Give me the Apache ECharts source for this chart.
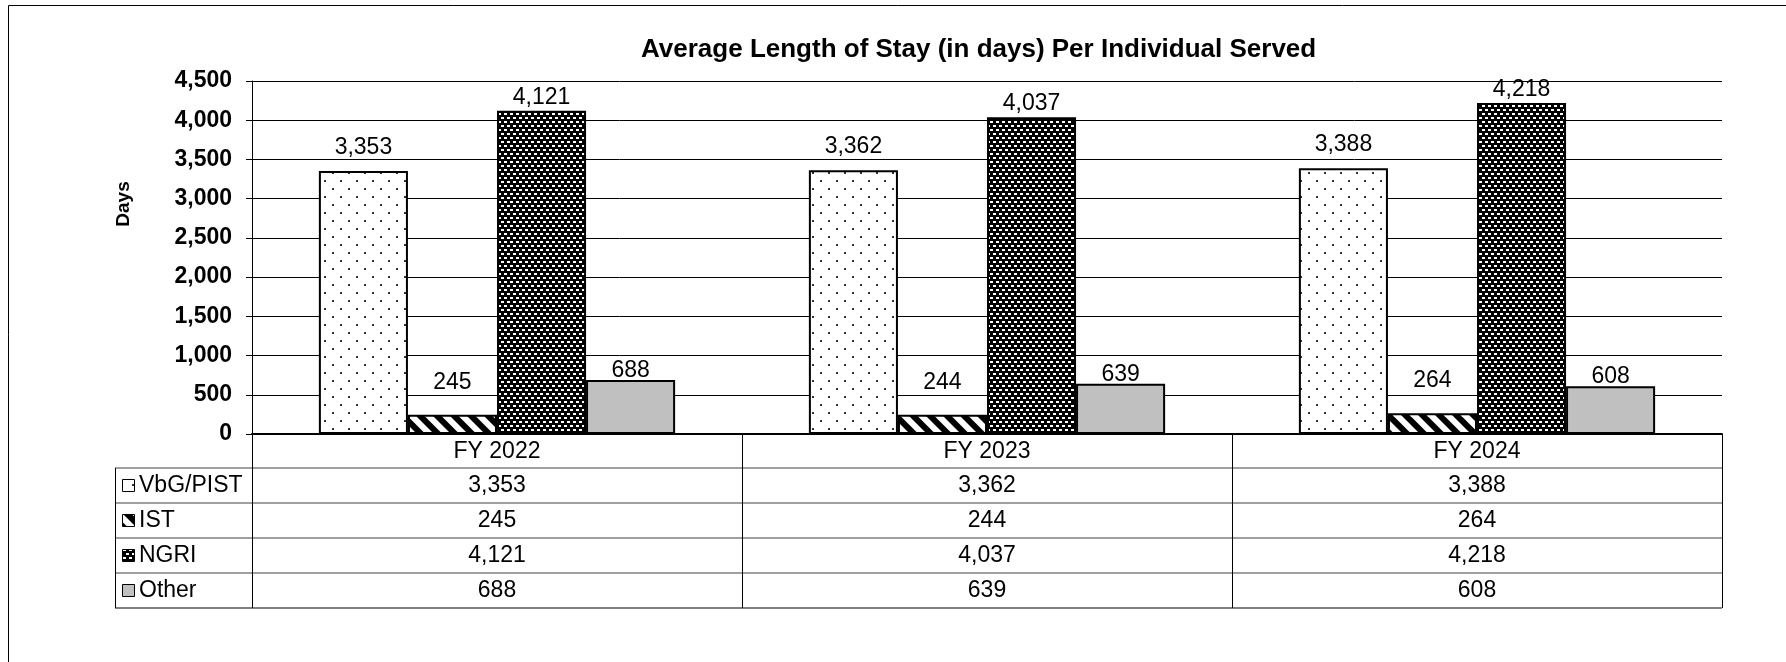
<!DOCTYPE html>
<html>
<head>
<meta charset="utf-8">
<script src="https://cdn.jsdelivr.net/npm/echarts@6/dist/echarts.min.js"></script>
<style>
  html, body { margin: 0; padding: 0; background: #fff; }
  #main { width: 1786px; height: 662px; }
</style>
</head>
<body>
<div id="main"></div>
<script>
// data
var categories = ["FY 2022", "FY 2023", "FY 2024"];
var seriesNames = ["VbG/PIST", "IST", "NGRI", "Other"];
var vbgPist = [3353, 3362, 3388];
var ist = [245, 244, 264];
var ngri = [4121, 4037, 4218];
var other = [688, 639, 608];
var yMin = 0, yMax = 4500, yStep = 500;

var FONT = '"Liberation Sans", Arial, sans-serif';

function fmt(v) {
  return String(v).replace(/\B(?=(\d{3})+(?!\d))/g, ",");
}

// little canvas tiles for the hatch fills
function tile(w, h, draw) {
  var c = document.createElement("canvas");
  c.width = w; c.height = h;
  draw(c.getContext("2d"), w, h);
  return c;
}
var dotTile = tile(16, 16, function (ctx, w, h) {
  ctx.fillStyle = "#fff"; ctx.fillRect(0, 0, w, h);
  ctx.fillStyle = "#333";
  ctx.fillRect(4, 4, 2, 2);
  ctx.fillRect(12, 12, 2, 2);
});
var stripeTile = tile(17, 17, function (ctx, w, h) {
  ctx.fillStyle = "#fff"; ctx.fillRect(0, 0, w, h);
  ctx.fillStyle = "#000";
  [-17, 0, 17].forEach(function (o) {
    ctx.beginPath();
    ctx.moveTo(o, 0);
    ctx.lineTo(o + 8.5, 0);
    ctx.lineTo(o + 25.5, 17);
    ctx.lineTo(o + 17, 17);
    ctx.closePath();
    ctx.fill();
  });
});
var brickTile = tile(6, 8, function (ctx, w, h) {
  ctx.fillStyle = "#000"; ctx.fillRect(0, 0, w, h);
  ctx.fillStyle = "#fff";
  ctx.fillRect(0, 1, 3, 2);
  ctx.fillRect(3, 5, 3, 2);
});

var fills = [
  { image: dotTile, repeat: "repeat" },
  { image: stripeTile, repeat: "repeat" },
  { image: brickTile, repeat: "repeat" },
  "#c0c0c0"
];
var values = [vbgPist, ist, ngri, other];
var labelDist = [12, 21, 2, -2];

var chart = echarts.init(document.getElementById("main"));

var option = {
  backgroundColor: "#fff",
  animation: false,
  title: {
    text: "Average Length of Stay (in days) Per Individual Served",
    left: 641,
    top: 37,
    padding: 0,
    textStyle: { fontFamily: FONT, fontSize: 26, fontWeight: "bold", color: "#000" }
  },
  grid: { left: 252, top: 81, width: 1470, height: 353, containLabel: false, outerBoundsMode: "none" },
  xAxis: {
    type: "category",
    data: categories,
    axisLine: { lineStyle: { color: "#000", width: 2 } },
    axisTick: { show: false },
    axisLabel: { fontFamily: FONT, fontSize: 23, color: "#000", margin: 6 },
    splitLine: { show: false }
  },
  yAxis: {
    type: "value",
    min: yMin,
    max: yMax,
    interval: yStep,
    axisLine: { show: true, lineStyle: { color: "#000", width: 1 } },
    axisTick: { show: true, length: 6, lineStyle: { color: "#000" } },
    axisLabel: {
      fontFamily: FONT, fontSize: 23, fontWeight: "bold", color: "#000", margin: 20,
      formatter: function (v) { return fmt(v); }
    },
    splitLine: { show: true, lineStyle: { color: "#000", width: 1 } }
  },
  series: seriesNames.map(function (name, i) {
    return {
      name: name,
      type: "bar",
      data: values[i],
      barGap: "0%",
      barCategoryGap: "27.3%",
      itemStyle: { color: fills[i], borderColor: "#000", borderWidth: 2 },
      label: {
        show: true,
        position: "top",
        distance: labelDist[i],
        fontFamily: FONT,
        fontSize: 23,
        color: "#000",
        formatter: function (p) { return fmt(p.value); }
      }
    };
  })
};
chart.setOption(option);

// data table under the plot, lined up with the category axis
var centers = categories.map(function (c, i) {
  return chart.convertToPixel({ xAxisIndex: 0 }, i);
});
var half = (centers[1] - centers[0]) / 2;
var edges = [centers[0] - half].concat(centers.map(function (c) { return c + half; }));
var axisY = chart.convertToPixel({ yAxisIndex: 0 }, 0);
var tableLeft = 115, rowTop = 468, rowH = 35;
var tableBottom = rowTop + rowH * seriesNames.length;

var g = [];
// frame round the whole chart
g.push({
  type: "rect", silent: true,
  shape: { x: 8.5, y: 5.5, width: 1800, height: 700 },
  style: { fill: null, stroke: "#000", lineWidth: 1 }
});
g.push({
  type: "text", silent: true, x: 124, y: 204, rotation: Math.PI / 2,
  style: {
    text: "Days", font: "bold 19px " + FONT, fill: "#000",
    align: "center", verticalAlign: "middle", textAlign: "center", textVerticalAlign: "middle"
  }
});
for (var r = 0; r <= seriesNames.length; r++) {
  var yy = rowTop + r * rowH;
  g.push({
    type: "line", silent: true,
    shape: { x1: tableLeft, y1: yy, x2: edges[edges.length - 1], y2: yy },
    style: { stroke: "#808080", lineWidth: r === seriesNames.length ? 2 : 1.5 }
  });
}
g.push({
  type: "line", silent: true,
  shape: { x1: tableLeft + 0.5, y1: rowTop, x2: tableLeft + 0.5, y2: tableBottom },
  style: { stroke: "#000", lineWidth: 1 }
});
edges.forEach(function (x) {
  g.push({
    type: "line", silent: true,
    shape: { x1: Math.round(x) + 0.5, y1: axisY, x2: Math.round(x) + 0.5, y2: tableBottom },
    style: { stroke: "#000", lineWidth: 1 }
  });
});
seriesNames.forEach(function (name, i) {
  var mid = rowTop + i * rowH + rowH / 2;
  g.push({
    type: "rect", silent: true,
    shape: { x: 122.5, y: Math.round(mid) - 6.5, width: 12, height: 12 },
    style: { fill: fills[i], stroke: "#000", lineWidth: 1 }
  });
  g.push({
    type: "text", silent: true, x: 139, y: mid,
    style: {
      text: name, font: "23px " + FONT, fill: "#000",
      align: "left", verticalAlign: "middle", textAlign: "left", textVerticalAlign: "middle"
    }
  });
  values[i].forEach(function (v, j) {
    g.push({
      type: "text", silent: true, x: centers[j], y: mid,
      style: {
        text: fmt(v), font: "23px " + FONT, fill: "#000",
        align: "center", verticalAlign: "middle", textAlign: "center", textVerticalAlign: "middle"
      }
    });
  });
});
chart.setOption({ graphic: { elements: g } });
</script>
</body>
</html>
